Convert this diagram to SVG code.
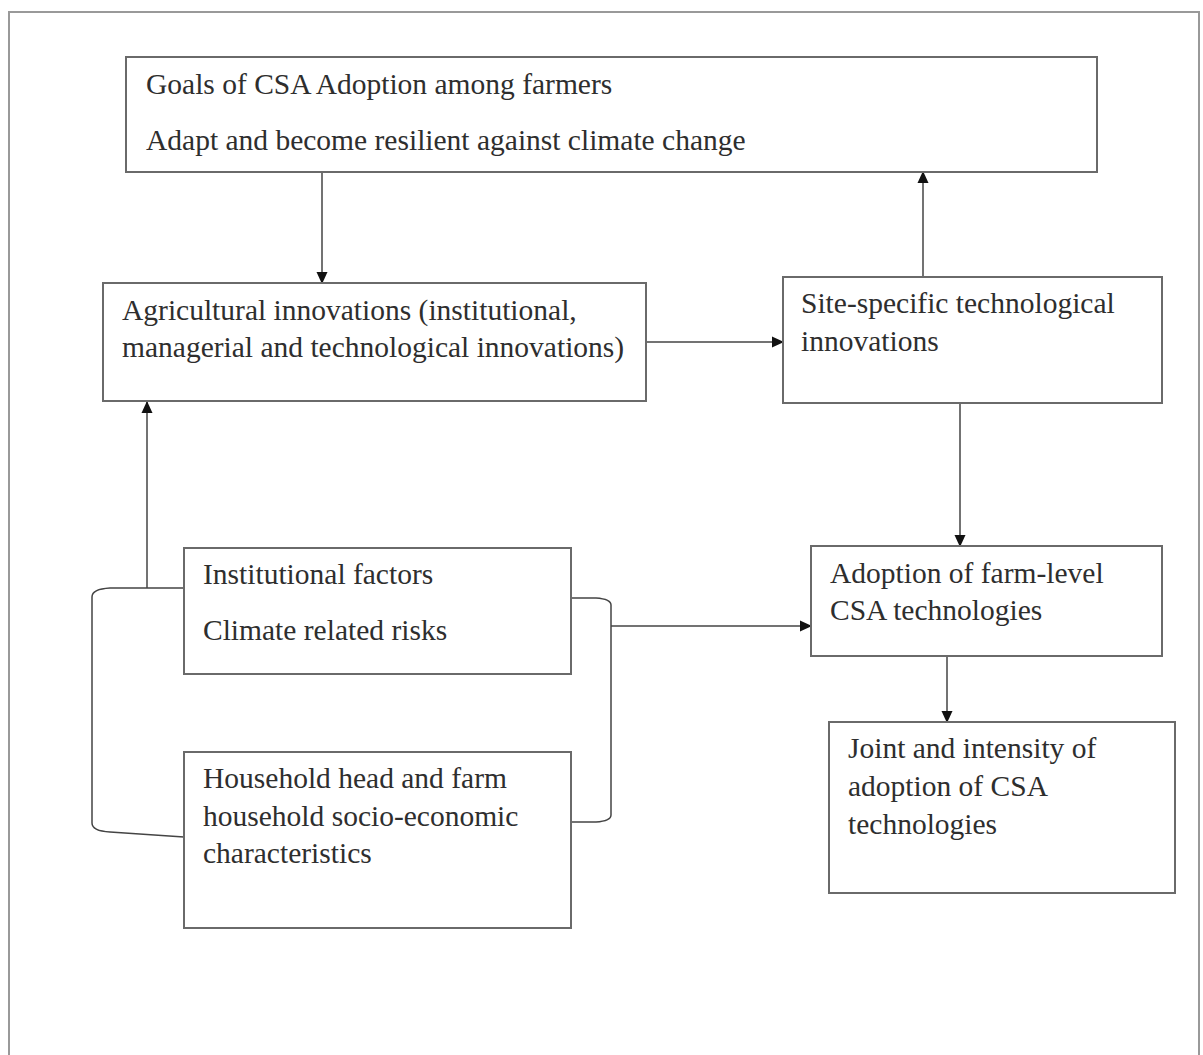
<svg xmlns="http://www.w3.org/2000/svg" width="1203" height="1055" viewBox="0 0 1203 1055">
<defs>
<style>
.box{fill:#fff;stroke:#6a6a6a;stroke-width:2}
.t{font-family:'Liberation Serif','Times New Roman',serif;font-size:29.5px;fill:#2e2e2e}
.c{fill:none;stroke:#444;stroke-width:1.5}
.frame{fill:none;stroke:#999;stroke-width:2}
</style>
<marker id="ah" markerWidth="12" markerHeight="12" refX="11" refY="6" orient="auto" markerUnits="userSpaceOnUse">
<path d="M0,0.5 L12,6 L0,11.5 Z" fill="#111"/>
</marker>
</defs>
<rect width="1203" height="1055" fill="#fff"/>
<rect class="frame" x="9" y="12" width="1190" height="1060"/>
<g id="connectors">
<line class="c" x1="322" y1="173" x2="322" y2="283" marker-end="url(#ah)"/>
<line class="c" x1="647" y1="342" x2="783" y2="342" marker-end="url(#ah)"/>
<line class="c" x1="923" y1="277" x2="923" y2="172" marker-end="url(#ah)"/>
<line class="c" x1="960" y1="403" x2="960" y2="546" marker-end="url(#ah)"/>
<line class="c" x1="947" y1="656" x2="947" y2="722" marker-end="url(#ah)"/>
<line class="c" x1="147" y1="588" x2="147" y2="402" marker-end="url(#ah)"/>
<path class="c" d="M184,588 L110,588 Q92,589 92,597 L92,823 Q92,831 110,832 L184,837"/>
<path class="c" d="M571,598 L596,598 Q611,599 611,605 L611,815 Q611,821 596,822 L571,822"/>
<line class="c" x1="611" y1="626" x2="811" y2="626" marker-end="url(#ah)"/>
</g>
<g id="goals">
<rect class="box" x="126" y="57" width="971" height="115"/>
<text class="t" x="146" y="94">Goals of CSA Adoption among farmers</text>
<text class="t" x="146" y="150">Adapt and become resilient against climate change</text>
</g>
<g id="agri">
<rect class="box" x="103" y="283" width="543" height="118"/>
<text class="t" x="122" y="320">Agricultural innovations (institutional,</text>
<text class="t" x="122" y="357">managerial and technological innovations)</text>
</g>
<g id="site">
<rect class="box" x="783" y="277" width="379" height="126"/>
<text class="t" x="801" y="313">Site-specific technological</text>
<text class="t" x="801" y="351">innovations</text>
</g>
<g id="institutional">
<rect class="box" x="184" y="548" width="387" height="126"/>
<text class="t" x="203" y="584">Institutional factors</text>
<text class="t" x="203" y="640">Climate related risks</text>
</g>
<g id="household">
<rect class="box" x="184" y="752" width="387" height="176"/>
<text class="t" x="203" y="788">Household head and farm</text>
<text class="t" x="203" y="826">household socio-economic</text>
<text class="t" x="203" y="863">characteristics</text>
</g>
<g id="adoption">
<rect class="box" x="811" y="546" width="351" height="110"/>
<text class="t" x="830" y="583">Adoption of farm-level</text>
<text class="t" x="830" y="620">CSA technologies</text>
</g>
<g id="joint">
<rect class="box" x="829" y="722" width="346" height="171"/>
<text class="t" x="848" y="758">Joint and intensity of</text>
<text class="t" x="848" y="796">adoption of CSA</text>
<text class="t" x="848" y="834">technologies</text>
</g>
</svg>
